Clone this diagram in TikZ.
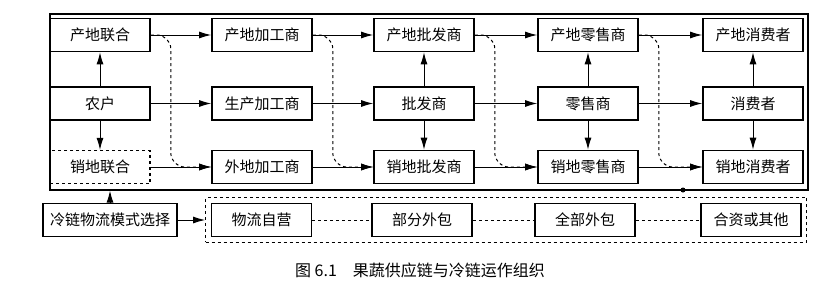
\documentclass[tikz,border=0pt]{standalone}
\usepackage{fontspec}
\newfontfamily\cjk{Noto Sans CJK SC}
\usetikzlibrary{arrows.meta,fit}

\begin{document}
\begin{tikzpicture}[x=1pt,y=-1pt,
  box/.style={draw,line width=1.6pt,minimum width=100pt,minimum height=33pt,inner sep=1pt,font=\cjk\fontsize{15pt}{17pt}\selectfont},
  dbox/.style={box,line width=1.1pt,dashed},
  arr/.style={-{Latex[length=12pt,width=7pt]},line width=1pt},
  dsh/.style={arr,dashed,rounded corners=14pt},
  lnk/.style={dashed,line width=1pt}
  ]
  \useasboundingbox (0,0) rectangle (828,290);
  \node[draw,line width=1.2pt,minimum width=758pt,minimum height=176pt,inner sep=0pt] (frame) at (429,102) {};
  % origin / farm / destination
  \node[box] (cdlh) at (100,35) {产地联合};
  \node[box] (nh) at (100,103.5) {农户};
  \node[dbox] (xdlh) at (100,167) {销地联合};
  \node[box] (cdjg) at (262,35) {产地加工商};
  \node[box] (scjg) at (262,103.5) {生产加工商};
  \node[box] (wdjg) at (262,167) {外地加工商};
  \node[box] (cdpf) at (424,35) {产地批发商};
  \node[box] (pf) at (424,103.5) {批发商};
  \node[box] (xdpf) at (424,167) {销地批发商};
  \node[box] (cdls) at (588,35) {产地零售商};
  \node[box] (ls) at (588,103.5) {零售商};
  \node[box] (xdls) at (588,167) {销地零售商};
  \node[box] (cdxf) at (753,35) {产地消费者};
  \node[box] (xf) at (753,103.5) {消费者};
  \node[box] (xdxf) at (753,167) {销地消费者};
  \draw[arr] (cdlh) -- (cdjg);
  \draw[arr] (cdjg) -- (cdpf);
  \draw[arr] (cdpf) -- (cdls);
  \draw[arr] (cdls) -- (cdxf);
  \draw[arr] (nh) -- (scjg);
  \draw[arr] (scjg) -- (pf);
  \draw[arr] (pf) -- (ls);
  \draw[arr] (ls) -- (xf);
  \draw[arr] (xdlh) -- (wdjg);
  \draw[arr] (wdjg) -- (xdpf);
  \draw[arr] (xdpf) -- (xdls);
  \draw[arr] (xdls) -- (xdxf);
  \draw[arr] (nh) -- (cdlh);
  \draw[arr] (nh) -- (xdlh);
  \draw[arr] (pf) -- (cdpf);
  \draw[arr] (pf) -- (xdpf);
  \draw[arr] (ls) -- (cdls);
  \draw[arr] (ls) -- (xdls);
  \draw[arr] (xf) -- (cdxf);
  \draw[arr] (xf) -- (xdxf);
  \draw[dsh] (cdlh.east) -- ++(20,0) |- (wdjg.west);
  \draw[dsh] (cdjg.east) -- ++(20,0) |- (xdpf.west);
  \draw[dsh] (cdpf.east) -- ++(20,0) |- (xdls.west);
  \draw[dsh] (cdls.east) -- ++(20,0) |- (xdxf.west);
  \fill (683,190) circle (2.5pt);
  % cold chain modes
  \node[box,minimum width=134pt] (llms) at (110,220) {冷链物流模式选择};
  \node[box] (zy) at (261.5,220) {物流自营};
  \node[box] (bf) at (422,220) {部分外包};
  \node[box] (qb) at (585,220) {全部外包};
  \node[box] (hz) at (751,220) {合资或其他};
  \node[draw,dashed,line width=1.1pt,inner sep=5pt,fit=(zy)(hz)] (mode) {};
  \draw[lnk] (zy) -- (bf);
  \draw[lnk] (bf) -- (qb);
  \draw[lnk] (qb) -- (hz);
  \draw[arr] (llms.east) -- (mode.west);
  \draw[arr] (llms.north) -- (llms.north |- frame.south);
  \node[font=\cjk\fontsize{16pt}{18pt}\selectfont] (cap) at (420,270) {图 6.1\quad 果蔬供应链与冷链运作组织};
\end{tikzpicture}
\end{document}
